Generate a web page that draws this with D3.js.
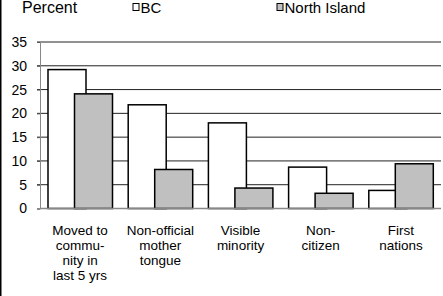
<!DOCTYPE html>
<html>
<head>
<meta charset="utf-8">
<script src="https://cdn.jsdelivr.net/npm/d3@7"></script>
<style>
  body { margin: 0; background: #fff; }
  svg { display: block; font-family: "Liberation Sans", Arial, sans-serif; }
</style>
</head>
<body>
<svg id="chart"></svg>
<script>
var width = 443;
var height = 296;

var categories = [
  ["Moved to", "commu-", "nity in", "last 5 yrs"],
  ["Non-official", "mother", "tongue"],
  ["Visible", "minority"],
  ["Non-", "citizen"],
  ["First", "nations"]
];
var seriesNames = ["BC", "North Island"];
var bcValues = [29.2, 21.8, 18.0, 8.7, 3.8];
var niValues = [24.1, 8.2, 4.3, 3.2, 9.4];
var yTicks = [0, 5, 10, 15, 20, 25, 30, 35];
var fills = ["#ffffff", "#c0c0c0"];

var margin = { top: 42, right: 2, bottom: 87.5, left: 40 };

var svg = d3.select("#chart")
  .attr("width", width)
  .attr("height", height);

// left frame edge
svg.append("line")
  .attr("x1", 0.75).attr("x2", 0.75)
  .attr("y1", 0).attr("y2", height)
  .attr("stroke", "#000")
  .attr("stroke-width", 1.5);

var x = d3.scaleBand()
  .domain(d3.range(categories.length))
  .range([margin.left, width - margin.right])
  .paddingInner(0).paddingOuter(0);

var y = d3.scaleLinear()
  .domain([0, 35])
  .range([height - margin.bottom, margin.top]);

// gridlines
svg.append("g")
  .selectAll("line")
  .data(yTicks.filter(d => d > 0))
  .join("line")
  .attr("x1", margin.left - 3)
  .attr("x2", width - margin.right)
  .attr("y1", d => y(d))
  .attr("y2", d => y(d))
  .attr("stroke", "#222")
  .attr("stroke-width", 1);

// y axis
var yAxis = svg.append("g")
  .attr("transform", `translate(${margin.left},0)`)
  .call(d3.axisLeft(y).tickValues(yTicks).tickSize(3).tickPadding(10));
yAxis.select(".domain").attr("stroke", "#888");
yAxis.selectAll(".tick line").attr("stroke", "#555");
yAxis.selectAll("text")
  .attr("font-size", 14)
  .attr("fill", "#000")
  .attr("font-family", "'Liberation Sans', Arial, sans-serif");

// bars
var barW = 38;
var shift = 26.5;
var groups = svg.append("g")
  .selectAll("g")
  .data(categories.map((c, i) => ({ i: i, vals: [bcValues[i], niValues[i]] })))
  .join("g");

groups.selectAll("rect")
  .data(d => d.vals.map((v, s) => ({ i: d.i, s: s, v: v })))
  .join("rect")
  .attr("x", d => x(d.i) + 8 + d.s * shift)
  .attr("y", d => y(d.v))
  .attr("width", barW)
  .attr("height", d => y(0) - y(d.v))
  .attr("fill", d => fills[d.s])
  .attr("stroke", "#000")
  .attr("stroke-width", 1.5);

// x axis baseline
svg.append("line")
  .attr("x1", margin.left)
  .attr("x2", width - margin.right)
  .attr("y1", y(0))
  .attr("y2", y(0))
  .attr("stroke", "#888")
  .attr("stroke-width", 1.5);

// category labels
var labels = svg.append("g")
  .selectAll("text")
  .data(categories)
  .join("text")
  .attr("text-anchor", "middle")
  .attr("font-size", 13.5)
  .attr("fill", "#000")
  .attr("transform", (d, i) => `translate(${x(i) + x.bandwidth() / 2},${y(0) + 26})`);

labels.selectAll("tspan")
  .data(d => d)
  .join("tspan")
  .attr("x", 0)
  .attr("dy", (d, i) => i === 0 ? 0 : 15)
  .text(d => d);

// title
svg.append("text")
  .attr("x", 22)
  .attr("y", 13)
  .attr("font-size", 16)
  .text("Percent");

// legend
var legendX = [132.5, 276.5];
var legend = svg.append("g")
  .selectAll("g")
  .data(seriesNames)
  .join("g")
  .attr("transform", (d, i) => `translate(${legendX[i]},0)`);

legend.append("rect")
  .attr("x", 0.5)
  .attr("y", 3.5)
  .attr("width", 6)
  .attr("height", 7)
  .attr("fill", (d, i) => fills[i])
  .attr("stroke", "#000")
  .attr("stroke-width", 1);

legend.append("text")
  .attr("x", 8)
  .attr("y", 13)
  .attr("font-size", 15)
  .text(d => d);
</script>
</body>
</html>
